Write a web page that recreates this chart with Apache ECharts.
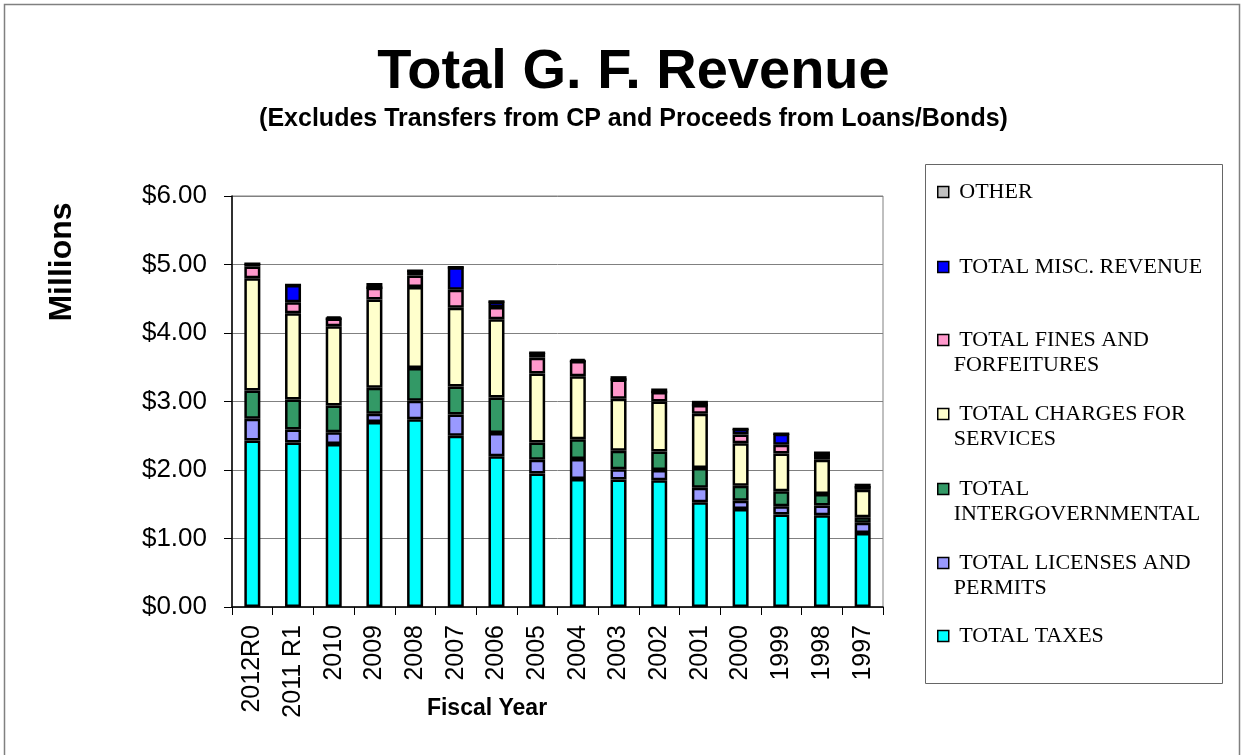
<!DOCTYPE html>
<html>
<head>
<meta charset="utf-8">
<script src="https://cdn.jsdelivr.net/npm/echarts@6/dist/echarts.min.js"></script>
<style>
html,body{margin:0;padding:0;background:#fff;}
#chart{width:1242px;height:755px;}
</style>
</head>
<body>
<div id="chart"></div>
<script>
// ---- data (millions of dollars) ----
var categories = ['2012R0','2011 R1','2010','2009','2008','2007','2006','2005','2004','2003','2002','2001','2000','1999','1998','1997'];
var totalTaxes      = [2.43, 2.40, 2.38, 2.70, 2.74, 2.50, 2.20, 1.95, 1.87, 1.86, 1.85, 1.53, 1.43, 1.35, 1.34, 1.08];
var licensesPermits = [0.32, 0.19, 0.17, 0.12, 0.27, 0.31, 0.34, 0.20, 0.29, 0.15, 0.15, 0.21, 0.12, 0.12, 0.14, 0.15];
var intergov        = [0.41, 0.44, 0.39, 0.38, 0.48, 0.41, 0.52, 0.25, 0.29, 0.27, 0.27, 0.29, 0.22, 0.22, 0.17, 0.08];
var chargesServices = [1.64, 1.26, 1.16, 1.29, 1.18, 1.15, 1.14, 1.01, 0.92, 0.76, 0.73, 0.79, 0.62, 0.55, 0.50, 0.40];
var finesForfeit    = [0.17, 0.16, 0.11, 0.17, 0.17, 0.26, 0.18, 0.23, 0.22, 0.28, 0.14, 0.13, 0.13, 0.13, 0.07, 0.04];
var miscRevenue     = [0.04, 0.25, 0.00, 0.00, 0.07, 0.33, 0.08, 0.07, 0.00, 0.00, 0.00, 0.00, 0.08, 0.16, 0.00, 0.00];
var otherRevenue    = [0.00, 0.00, 0.03, 0.07, 0.00, 0.00, 0.00, 0.00, 0.03, 0.05, 0.05, 0.06, 0.00, 0.00, 0.05, 0.05];
var yTicks = [0, 1, 2, 3, 4, 5, 6];

var seriesDefs = [
  {name:'TOTAL TAXES', data: totalTaxes, color:'#00FFFF', label:' TOTAL TAXES', center:636},
  {name:'TOTAL LICENSES AND PERMITS', data: licensesPermits, color:'#9999FF', label:' TOTAL LICENSES AND\nPERMITS', center:563},
  {name:'TOTAL INTERGOVERNMENTAL', data: intergov, color:'#339966', label:' TOTAL\nINTERGOVERNMENTAL', center:489},
  {name:'TOTAL CHARGES FOR SERVICES', data: chargesServices, color:'#FFFFCC', label:' TOTAL CHARGES FOR\nSERVICES', center:414},
  {name:'TOTAL FINES AND FORFEITURES', data: finesForfeit, color:'#FF99CC', label:' TOTAL FINES AND\nFORFEITURES', center:340},
  {name:'TOTAL MISC. REVENUE', data: miscRevenue, color:'#0000FF', label:' TOTAL MISC. REVENUE', center:267},
  {name:'OTHER', data: otherRevenue, color:'#C0C0C0', label:' OTHER', center:192}
];

var series = seriesDefs.map(function(d){
  return {
    name: d.name, type:'bar', stack:'rev', barWidth:16,
    data: d.data,
    itemStyle:{color:d.color, borderColor:'#000', borderWidth:2.5},
    emphasis:{disabled:true}
  };
});

var legends = seriesDefs.map(function(d){
  var twoLine = d.label.indexOf('\n') >= 0;
  // a leading blank line keeps the first text line level with the icon
  var text = twoLine ? '\n' + d.label : d.label;
  var top = twoLine ? d.center - 37.5 : d.center - 12.5;
  return {
    data:[d.name], left:937, top: top, padding:0, icon:'rect',
    itemWidth:11, itemHeight:11,
    itemStyle:{borderColor:'#000', borderWidth:1.5},
    formatter: function(){ return text; },
    textStyle:{fontFamily:'Liberation Serif', fontSize:22, color:'#000', lineHeight:25},
    selectedMode:false
  };
});

var chart = echarts.init(document.getElementById('chart'), null, {renderer:'canvas'});
chart.setOption({
  animation:false,
  backgroundColor:'#fff',
  grid:{left:232, right:359, top:196, bottom:148, show:true, borderColor:'#808080', borderWidth:1},
  xAxis:{
    type:'category', data:categories,
    axisLine:{lineStyle:{color:'#000', width:1.5}},
    axisTick:{show:true, length:8, lineStyle:{color:'#000'}},
    axisLabel:{rotate:90, margin:18, fontFamily:'Liberation Sans', fontSize:25, color:'#000', interval:0}
  },
  yAxis:{
    type:'value', min:yTicks[0], max:yTicks[yTicks.length-1], interval:1,
    axisLine:{show:true, lineStyle:{color:'#000', width:1.5}},
    axisTick:{show:true, length:8, lineStyle:{color:'#000'}},
    splitLine:{lineStyle:{color:'#808080', width:1}},
    axisLabel:{margin:25, fontFamily:'Liberation Sans', fontSize:26, color:'#000',
      formatter:function(v){ return '$' + v.toFixed(2); }}
  },
  legend: legends,
  series: series,
  graphic:[
    {type:'rect', shape:{x:4.5, y:4.5, width:1235, height:760}, style:{fill:null, stroke:'#808080', lineWidth:1.5}, silent:true, z:-10},
    {type:'rect', shape:{x:925.5, y:164.5, width:297, height:519}, style:{fill:null, stroke:'#666', lineWidth:1}, silent:true},
    {type:'text', x:633.5, y:73, style:{text:'Total G. F. Revenue', font:'bold 56px "Liberation Sans"', fill:'#000', textAlign:'center', textVerticalAlign:'middle'}},
    {type:'text', x:633.5, y:119, style:{text:'(Excludes Transfers from CP and Proceeds from Loans/Bonds)', font:'bold 25px "Liberation Sans"', fill:'#000', textAlign:'center', textVerticalAlign:'middle'}},
    {type:'text', x:62, y:262, rotation:Math.PI/2, style:{text:'Millions', font:'bold 32px "Liberation Sans"', fill:'#000', textAlign:'center', textVerticalAlign:'middle'}},
    {type:'text', x:487, y:709, style:{text:'Fiscal Year', font:'bold 23px "Liberation Sans"', fill:'#000', textAlign:'center', textVerticalAlign:'middle'}}
  ]
});
</script>
</body>
</html>
